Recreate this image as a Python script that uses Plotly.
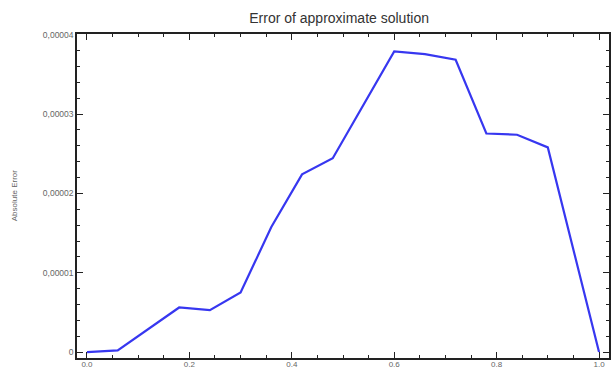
import plotly.graph_objects as go

x_vals = [0.0, 0.06, 0.18, 0.24, 0.30, 0.36, 0.42, 0.48, 0.60, 0.66, 0.72, 0.78, 0.84, 0.90, 1.0]
abs_error = [0.0, 0.2e-6, 5.62e-6, 5.28e-6, 7.5e-6, 1.576e-5, 2.24e-5, 2.444e-5,
             3.79e-5, 3.757e-5, 3.685e-5, 2.755e-5, 2.74e-5, 2.58e-5, 0.0]

y_tickvals = [0, 1e-5, 2e-5, 3e-5, 4e-5]
y_ticktext = ["0", "0,00001", "0,00002", "0,00003", "0,00004"]
x_tickvals = [0.0, 0.2, 0.4, 0.6, 0.8, 1.0]
x_ticktext = ["0.0", "0.2", "0.4", "0.6", "0.8", "1.0"]

fig = go.Figure()
fig.add_trace(go.Scatter(x=x_vals, y=abs_error, mode="lines",
                         line=dict(color="rgb(55,55,240)", width=2.2),
                         showlegend=False))

axis_common = dict(showline=True, linecolor="#222", linewidth=1.5, mirror="allticks",
                   ticks="inside", ticklen=6, tickwidth=1.3, tickcolor="#222",
                   showgrid=False, zeroline=False, automargin=False)

fig.update_layout(
    width=611, height=369,
    margin=dict(l=77, r=2, t=34, b=11, autoexpand=False),
    paper_bgcolor="white", plot_bgcolor="white",
    title=dict(text="Error of approximate solution", x=0.555, xanchor="center",
               y=0.952, yanchor="middle", automargin=False,
               font=dict(family="Liberation Sans, Arial", size=14, color="#333")),
    xaxis=dict(range=[-0.0195, 1.0195], tickvals=x_tickvals, ticktext=x_ticktext,
               ticklabelstandoff=-2,
               tickfont=dict(family="Liberation Sans, Arial", size=8, color="#666"),
               minor=dict(ticks="inside", dtick=0.05, tick0=0, ticklen=3,
                          tickwidth=1.1, tickcolor="#222"),
               **axis_common),
    yaxis=dict(range=[-7.5e-7, 4.01e-5], tickvals=y_tickvals, ticktext=y_ticktext,
               tickfont=dict(family="Liberation Sans, Arial", size=8.5, color="#666"),
               minor=dict(ticks="inside", dtick=2e-6, tick0=0, ticklen=3,
                          tickwidth=1.1, tickcolor="#222"),
               **axis_common),
    annotations=[dict(text="Absolute Error", xref="paper", yref="paper",
                      x=-0.118, y=0.5, xanchor="center", yanchor="middle",
                      textangle=-90, showarrow=False,
                      font=dict(family="Liberation Sans, Arial", size=8, color="#666"))],
)

fig.write_html("out.html", config={"displayModeBar": False},
               post_script="document.body.style.margin='0';document.body.style.overflow='hidden';")
